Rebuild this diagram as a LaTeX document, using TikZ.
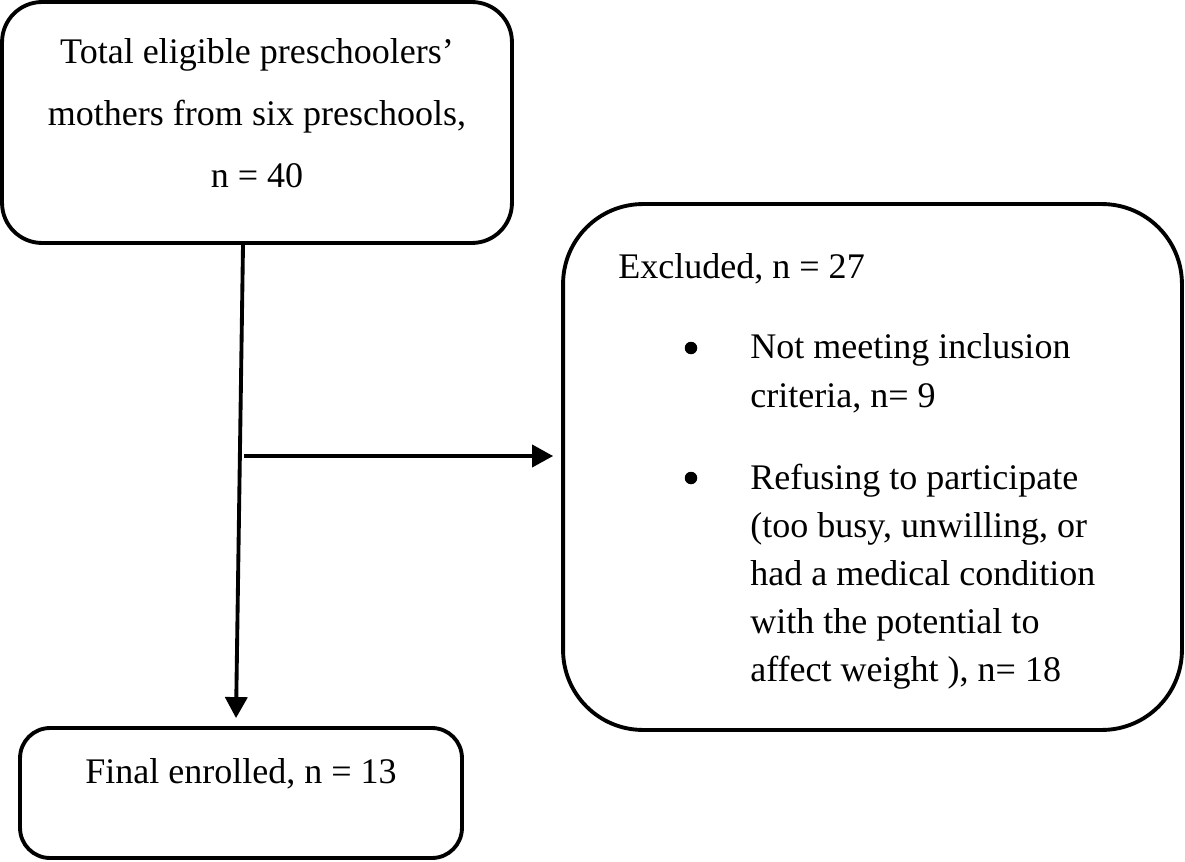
\documentclass[tikz,border=0pt]{standalone}
\usepackage{fontspec}
\setmainfont{Liberation Serif}
\usepackage{tikz}
\usetikzlibrary{arrows.meta}

\tikzset{
    flowbox/.style={draw=black, line width=2.2pt, inner sep=0pt},
    arr/.style={line width=2.2pt, -{Triangle[length=0.42cm,width=0.44cm]}},
    txt/.style={anchor=base west, inner sep=0pt, align=left},
    dot/.style={circle, fill=black, inner sep=0pt, minimum size=0.25cm}
}

\begin{document}
\begin{tikzpicture}[x=0.02cm, y=-0.02cm]
                \useasboundingbox (0,0) rectangle (1185,861);
                % boxes
                \node[flowbox, rounded corners=0.8cm, minimum width=10.2cm, minimum height=4.82cm,
                    text height=3cm, text depth=0.38cm, align=center,
                    font=\fontsize{20.5}{35.4}\selectfont] (total) at (257,122.5)
                    {Total eligible preschoolers'\\mothers from six preschools,\\n = 40};
                \node[flowbox, rounded corners=0.6cm, minimum width=8.84cm, minimum height=2.6cm,
                    text height=0.5cm, text depth=0.9cm,
                    font=\fontsize{20.5}{27.5}\selectfont] (final) at (241,793) {Final enrolled, n = 13};
                \node[flowbox, rounded corners=1.6cm, minimum width=12.38cm, minimum height=10.52cm] (excl) at (872.5,467) {};
                % text of the excluded box
                \node[txt, font=\fontsize{20.5}{27.5}\selectfont] (excltitle) at (618,278) {Excluded, n = 27};
                \node[dot] (bulleta) at (691,348) {};
                \node[dot] (bulletb) at (691,478) {};
                \node[txt, font=\fontsize{20.5}{27.8}\selectfont] (itema) at (750,407) {Not meeting inclusion\\criteria, n= 9};
                \node[txt, font=\fontsize{20.5}{27.2}\selectfont] (itemb) at (750,681) {Refusing to participate\\(too busy, unwilling, or\\had a medical condition\\with the potential to\\affect weight ), n= 18};
                % connectors
                \coordinate (split) at (244,456);
                \draw[arr] ([xshift=-0.28cm]total.south) -- ([xshift=-0.1cm,yshift=0.16cm]final.north);
                \draw[arr, shorten >=0.16cm] (split) -- (split -| excl.west);
            \end{tikzpicture}
\end{document}
